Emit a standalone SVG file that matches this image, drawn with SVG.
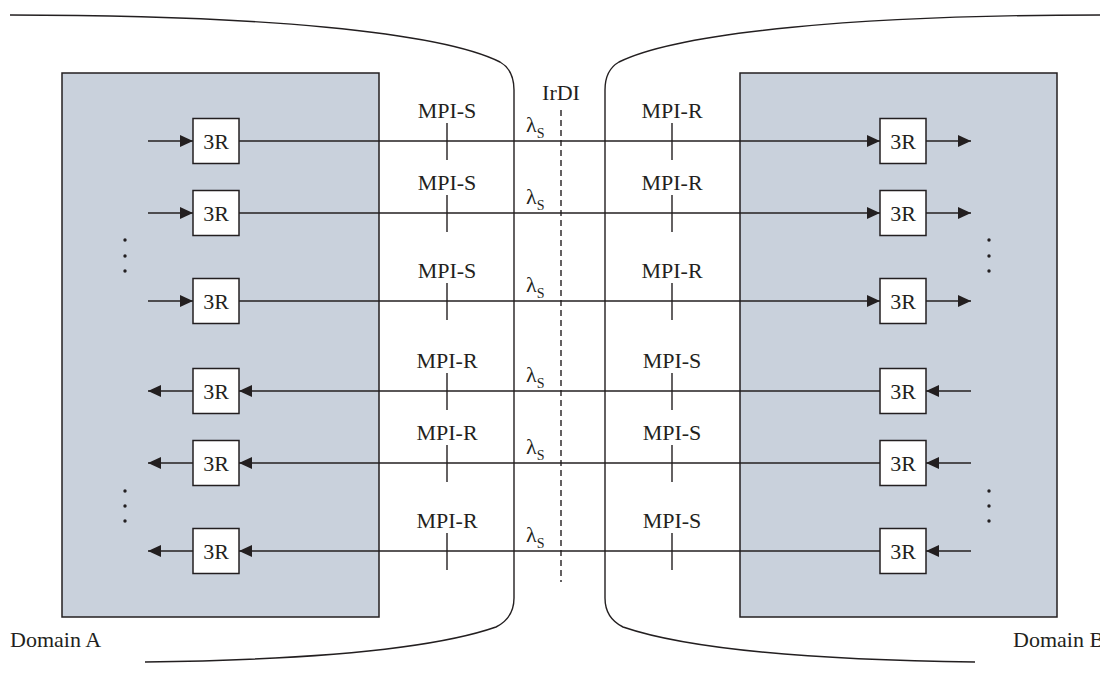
<svg xmlns="http://www.w3.org/2000/svg" width="1100" height="676" viewBox="0 0 1100 676">
<defs>
<style>
.t{font-family:"Liberation Serif","Times New Roman",serif;font-size:22px;fill:#231f20}
.c{text-anchor:middle}
.sub{font-size:14px}
.ln{stroke:#231f20;stroke-width:1.4;fill:none}
.panel{fill:#c9d1dc;stroke:#231f20;stroke-width:1.5}
.box{fill:#fff;stroke:#231f20;stroke-width:1.5}
.dash{stroke:#231f20;stroke-width:1.4;stroke-dasharray:6 4;fill:none}
.dot{fill:#231f20}
</style>
<marker id="ah" markerUnits="userSpaceOnUse" markerWidth="14" markerHeight="12" refX="13" refY="6" orient="auto">
<path d="M0,0 L13,6 L0,12 z" fill="#231f20"/>
</marker>
</defs>
<rect width="1100" height="676" fill="#fff"/>

<g id="boundaries">
<path class="ln" d="M10 15 C 260 15, 440 32, 500 62 Q 514 70 514 90 V 598 Q 514 618 496 627 C 430 650, 300 660, 145 662"/>
<path class="ln" d="M1100 15 C 860 15, 680 32, 619 62 Q 605 70 605 90 V 598 Q 605 618 623 627 C 690 650, 820 660, 975 662"/>
</g>

<g id="domainA">
<rect class="panel" x="62" y="73" width="317" height="544"/>
<text class="t" x="10" y="647">Domain A</text>
<circle class="dot" cx="125" cy="240" r="1.7"/><circle class="dot" cx="125" cy="256" r="1.7"/><circle class="dot" cx="125" cy="271" r="1.7"/>
<circle class="dot" cx="125" cy="491" r="1.7"/><circle class="dot" cx="125" cy="506" r="1.7"/><circle class="dot" cx="125" cy="521" r="1.7"/>
</g>
<g id="domainB">
<rect class="panel" x="740" y="73" width="317" height="544"/>
<text class="t" x="1013" y="647">Domain B</text>
<circle class="dot" cx="989" cy="240" r="1.7"/><circle class="dot" cx="989" cy="256" r="1.7"/><circle class="dot" cx="989" cy="271" r="1.7"/>
<circle class="dot" cx="989" cy="491" r="1.7"/><circle class="dot" cx="989" cy="506" r="1.7"/><circle class="dot" cx="989" cy="521" r="1.7"/>
</g>

<g id="irdi">
<line class="dash" x1="561" y1="110" x2="561" y2="582"/>
<text class="t c" x="561" y="100">IrDI</text>
</g>

<g id="connectors">
<line class="ln" x1="148" y1="141" x2="193" y2="141" marker-end="url(#ah)"/>
<line class="ln" x1="239" y1="141" x2="880" y2="141" marker-end="url(#ah)"/>
<line class="ln" x1="926" y1="141" x2="971" y2="141" marker-end="url(#ah)"/>
<line class="ln" x1="148" y1="213" x2="193" y2="213" marker-end="url(#ah)"/>
<line class="ln" x1="239" y1="213" x2="880" y2="213" marker-end="url(#ah)"/>
<line class="ln" x1="926" y1="213" x2="971" y2="213" marker-end="url(#ah)"/>
<line class="ln" x1="148" y1="301" x2="193" y2="301" marker-end="url(#ah)"/>
<line class="ln" x1="239" y1="301" x2="880" y2="301" marker-end="url(#ah)"/>
<line class="ln" x1="926" y1="301" x2="971" y2="301" marker-end="url(#ah)"/>
<line class="ln" x1="971" y1="391" x2="926" y2="391" marker-end="url(#ah)"/>
<line class="ln" x1="880" y1="391" x2="239" y2="391" marker-end="url(#ah)"/>
<line class="ln" x1="193" y1="391" x2="148" y2="391" marker-end="url(#ah)"/>
<line class="ln" x1="971" y1="463" x2="926" y2="463" marker-end="url(#ah)"/>
<line class="ln" x1="880" y1="463" x2="239" y2="463" marker-end="url(#ah)"/>
<line class="ln" x1="193" y1="463" x2="148" y2="463" marker-end="url(#ah)"/>
<line class="ln" x1="971" y1="551" x2="926" y2="551" marker-end="url(#ah)"/>
<line class="ln" x1="880" y1="551" x2="239" y2="551" marker-end="url(#ah)"/>
<line class="ln" x1="193" y1="551" x2="148" y2="551" marker-end="url(#ah)"/>
</g>

<g id="interfaces">
<line class="ln" x1="447" y1="123" x2="447" y2="160"/><line class="ln" x1="672" y1="123" x2="672" y2="160"/>
<line class="ln" x1="447" y1="195" x2="447" y2="232"/><line class="ln" x1="672" y1="195" x2="672" y2="232"/>
<line class="ln" x1="447" y1="283" x2="447" y2="320"/><line class="ln" x1="672" y1="283" x2="672" y2="320"/>
<line class="ln" x1="447" y1="373" x2="447" y2="410"/><line class="ln" x1="672" y1="373" x2="672" y2="410"/>
<line class="ln" x1="447" y1="445" x2="447" y2="482"/><line class="ln" x1="672" y1="445" x2="672" y2="482"/>
<line class="ln" x1="447" y1="533" x2="447" y2="570"/><line class="ln" x1="672" y1="533" x2="672" y2="570"/>
<text class="t c" x="447" y="118">MPI-S</text><text class="t c" x="672" y="118">MPI-R</text>
<text class="t c" x="447" y="190">MPI-S</text><text class="t c" x="672" y="190">MPI-R</text>
<text class="t c" x="447" y="278">MPI-S</text><text class="t c" x="672" y="278">MPI-R</text>
<text class="t c" x="447" y="368">MPI-R</text><text class="t c" x="672" y="368">MPI-S</text>
<text class="t c" x="447" y="440">MPI-R</text><text class="t c" x="672" y="440">MPI-S</text>
<text class="t c" x="447" y="528">MPI-R</text><text class="t c" x="672" y="528">MPI-S</text>
<text class="t" x="526" y="132">λ<tspan class="sub" dy="6">S</tspan></text>
<text class="t" x="526" y="204">λ<tspan class="sub" dy="6">S</tspan></text>
<text class="t" x="526" y="292">λ<tspan class="sub" dy="6">S</tspan></text>
<text class="t" x="526" y="382">λ<tspan class="sub" dy="6">S</tspan></text>
<text class="t" x="526" y="454">λ<tspan class="sub" dy="6">S</tspan></text>
<text class="t" x="526" y="542">λ<tspan class="sub" dy="6">S</tspan></text>
</g>

<g id="a1"><rect class="box" x="193" y="118.5" width="46" height="45"/><text class="t c" x="216" y="149">3R</text></g>
<g id="a2"><rect class="box" x="193" y="190.5" width="46" height="45"/><text class="t c" x="216" y="221">3R</text></g>
<g id="a3"><rect class="box" x="193" y="278.5" width="46" height="45"/><text class="t c" x="216" y="309">3R</text></g>
<g id="a4"><rect class="box" x="193" y="368.5" width="46" height="45"/><text class="t c" x="216" y="399">3R</text></g>
<g id="a5"><rect class="box" x="193" y="440.5" width="46" height="45"/><text class="t c" x="216" y="471">3R</text></g>
<g id="a6"><rect class="box" x="193" y="528.5" width="46" height="45"/><text class="t c" x="216" y="559">3R</text></g>
<g id="b1"><rect class="box" x="880" y="118.5" width="46" height="45"/><text class="t c" x="903" y="149">3R</text></g>
<g id="b2"><rect class="box" x="880" y="190.5" width="46" height="45"/><text class="t c" x="903" y="221">3R</text></g>
<g id="b3"><rect class="box" x="880" y="278.5" width="46" height="45"/><text class="t c" x="903" y="309">3R</text></g>
<g id="b4"><rect class="box" x="880" y="368.5" width="46" height="45"/><text class="t c" x="903" y="399">3R</text></g>
<g id="b5"><rect class="box" x="880" y="440.5" width="46" height="45"/><text class="t c" x="903" y="471">3R</text></g>
<g id="b6"><rect class="box" x="880" y="528.5" width="46" height="45"/><text class="t c" x="903" y="559">3R</text></g>
</svg>
